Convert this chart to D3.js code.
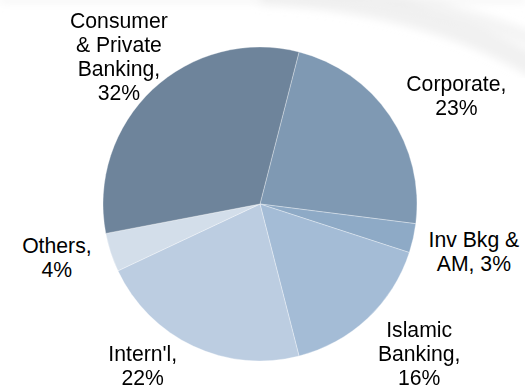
<!DOCTYPE html>
<html>
<head>
<meta charset="utf-8">
<script src="https://cdn.jsdelivr.net/npm/d3@7"></script>
<style>
  html, body { margin: 0; padding: 0; background: #ffffff; }
  svg { display: block; }
  text { font-family: "Liberation Sans", Arial, sans-serif; fill: #000; }
</style>
</head>
<body>
<svg id="chart" width="525" height="388"></svg>
<script>
// Revenue split by business segment
const categories = ["Corporate", "Inv Bkg & AM", "Islamic Banking", "Intern'l", "Others", "Consumer & Private Banking"];
const shares = [23, 3, 16, 22, 4, 32];
// Label text, one entry per line
const labelLines = [
  ["Corporate,", "23%"],
  ["Inv Bkg &", "AM, 3%"],
  ["Islamic", "Banking,", "16%"],
  ["Intern'l,", "22%"],
  ["Others,", "4%"],
  ["Consumer", "& Private", "Banking,", "32%"]
];
const sliceColors = ["#7f99b3", "#8eaac6", "#a4bcd6", "#bccde1", "#d3deea", "#6e849b"];

const width = 525, height = 388;
const cx = 260, cy = 204, radius = 157;
const lineHeight = 24;
const fontSize = 21.2;
// small hand adjustments for label placement around the pie
const labelNudge = [[21, 11], [7, 2], [14, -4.5], [-27, -30], [-1.5, -11.5], [4, 8]];

const svg = d3.select("#chart");

// faint decorative swoosh in the background
const defs = svg.append("defs");
defs.append("filter").attr("id", "soft")
  .append("feGaussianBlur").attr("stdDeviation", 4);
const bg = svg.append("g").attr("filter", "url(#soft)");
bg.append("path")
  .attr("d", "M 260 -6 C 360 -2, 460 20, 540 70")
  .attr("fill", "none").attr("stroke", "#e6e6e6").attr("stroke-width", 22).attr("opacity", 0.55);
bg.append("path")
  .attr("d", "M 330 -10 C 420 0, 490 20, 545 45")
  .attr("fill", "none").attr("stroke", "#ececec").attr("stroke-width", 14).attr("opacity", 0.6);
bg.append("path")
  .attr("d", "M 0 0 L 525 0")
  .attr("fill", "none").attr("stroke", "#eeeeee").attr("stroke-width", 5).attr("opacity", 0.7);

const startAngle = 14.4 * Math.PI / 180;
const pie = d3.pie()
  .sort(null)
  .value(d => d)
  .startAngle(startAngle)
  .endAngle(startAngle + 2 * Math.PI);

const arcs = pie(shares);
const arc = d3.arc().innerRadius(0).outerRadius(radius);
const labelArc = d3.arc().innerRadius(212).outerRadius(212);

const g = svg.append("g").attr("transform", `translate(${cx},${cy})`);

g.selectAll("path.slice")
  .data(arcs)
  .join("path")
  .attr("class", "slice")
  .attr("d", arc)
  .attr("fill", (d, i) => sliceColors[i])
  .attr("stroke", "rgba(255,255,255,0.4)")
  .attr("stroke-width", 0.8);

const labels = g.selectAll("text.lbl")
  .data(arcs)
  .join("text")
  .attr("class", "lbl")
  .attr("text-anchor", "middle")
  .attr("font-size", fontSize)
  .attr("transform", (d, i) => {
    const [x, y] = labelArc.centroid(d);
    return `translate(${x + labelNudge[i][0]},${y + labelNudge[i][1]})`;
  });

labels.each(function(d, i) {
  const lines = labelLines[i];
  const first = -(lines.length - 1) * lineHeight / 2 + 7;
  d3.select(this).selectAll("tspan")
    .data(lines)
    .join("tspan")
    .attr("x", 0)
    .attr("y", (t, k) => first + k * lineHeight)
    .text(t => t);
});
</script>
</body>
</html>
